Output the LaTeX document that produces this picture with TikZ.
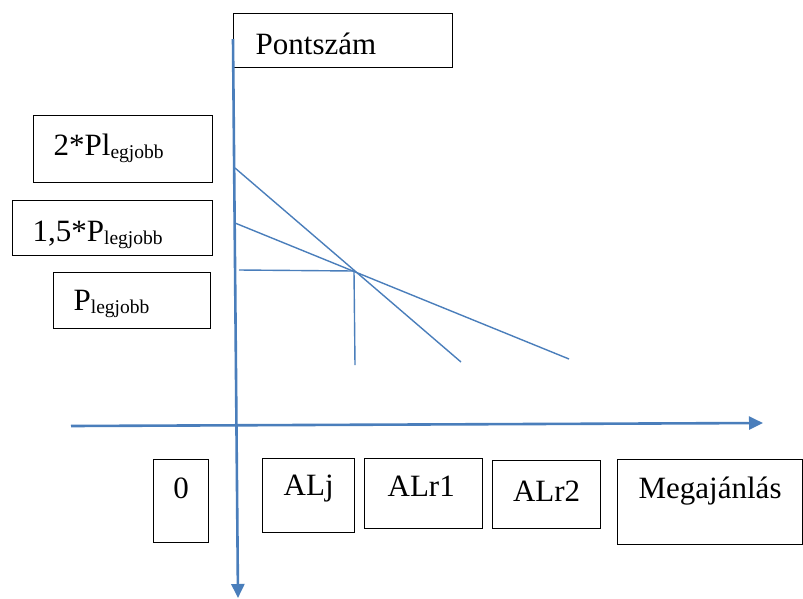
\documentclass[tikz,border=0pt]{standalone}
\usepackage{fontspec}
\setmainfont{Liberation Serif}
\usetikzlibrary{arrows.meta}
\definecolor{cblue}{RGB}{74, 126, 187}
\newcommand{\boxfont}{\fontsize{31}{36}\selectfont}
\newcommand{\lsub}[1]{\raisebox{-3pt}{\fontsize{19.5}{20}\selectfont #1}}
\tikzset{
    box/.style={draw=black, line width=1.3pt, inner ysep=0pt, anchor=north west, font=\boxfont},
    axis/.style={cblue, line width=2.6pt, -{Triangle[length=14pt, width=13pt]}},
    graph/.style={cblue, line width=1.4pt}
}

\begin{document}
\begin{tikzpicture}[x=1pt, y=-1pt]

\draw[draw=none, use as bounding box] (0, 0) rectangle (803, 598);

\node [box, align=left, inner xsep=22pt, text width=175pt, text height=41pt, text depth=13pt]
      (pont) at (233, 13) {Pontszám};
\node [box, align=left, inner xsep=20pt, text width=139pt, text height=40pt, text depth=27pt]
      (ketszer) at (33, 115) {2*Pl\lsub{egjobb}};
\node [box, align=left, inner xsep=20pt, text width=160pt, text height=41pt, text depth=14pt]
      (masfel) at (12, 200) {1,5*P\lsub{legjobb}};
\node [box, align=left, inner xsep=20pt, text width=117pt, text height=38pt, text depth=18pt]
      (legjobb) at (53, 272) {P\lsub{legjobb}};

\node [box, align=center, inner xsep=5pt, text width=45pt, text height=39pt, text depth=44pt]
      (nulla) at (153, 459) {0};
\node [box, align=center, inner xsep=5pt, text width=82pt, text height=37pt, text depth=37pt]
      (alj) at (262, 458) {ALj};
\node [box, align=left, inner xsep=23pt, text width=72pt, text height=38pt, text depth=32pt]
      (alra) at (364, 458) {ALr1};
\node [box, align=center, inner xsep=5pt, text width=98pt, text height=41pt, text depth=27pt]
      (alrb) at (492, 460) {ALr2};
\node [box, align=left, inner xsep=21pt, text width=143pt, text height=39pt, text depth=46pt]
      (megaj) at (617, 459) {Megajánlás};

\coordinate (ytop) at (233, 39);
\coordinate (ybot) at (238, 598);
\coordinate (xleft) at (71, 426);
\coordinate (xright) at (763, 423);
\draw [axis] (xleft) -- (xright);
\draw [axis] (ytop) -- (ybot);

\coordinate (a2) at (235, 168);
\coordinate (a15) at (235, 223);
\coordinate (a1) at (239, 270);
\coordinate (m) at (354, 271);
\coordinate (e1) at (355, 365);
\coordinate (e2) at (461, 362);
\coordinate (e15) at (569, 359);
\draw [graph] (a2) -- (e2);
\draw [graph] (a15) -- (e15);
\draw [graph] (a1) -- (m) -- (e1);
\end{tikzpicture}
\end{document}
